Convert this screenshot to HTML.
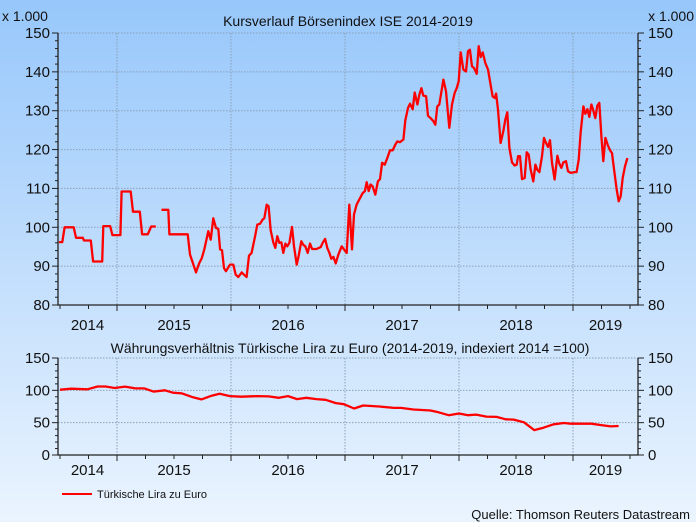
<!DOCTYPE html>
<html><head><meta charset="utf-8"><style>
html,body{margin:0;padding:0;}
body{width:696px;height:522px;overflow:hidden;font-family:"Liberation Sans",sans-serif;}
svg text{font-family:"Liberation Sans",sans-serif;fill:#111;}
</style></head><body>
<svg id="chart" width="696" height="522" viewBox="0 0 696 522" xmlns="http://www.w3.org/2000/svg">
<defs><linearGradient id="bg" x1="0" y1="0" x2="0" y2="1"><stop offset="0" stop-color="#97c7fb"/><stop offset="1" stop-color="#eaf4fe"/></linearGradient></defs>
<rect x="0" y="0" width="696" height="522" fill="url(#bg)"/>
<g id="top"></g>
<g id="bot"></g>
<text x="2" y="21" font-size="14">x 1.000</text>
<text x="694" y="21" font-size="14" text-anchor="end">x 1.000</text>
<text x="348" y="26" font-size="14" text-anchor="middle">Kursverlauf Börsenindex ISE 2014-2019</text>
<text x="350" y="353" font-size="14" text-anchor="middle">Währungsverhältnis Türkische Lira zu Euro (2014-2019, indexiert 2014 =100)</text>
<line x1="62" y1="494" x2="92" y2="494" stroke="#ff0000" stroke-width="2"/>
<text x="97" y="498" font-size="11">Türkische Lira zu Euro</text>
<text x="690" y="519" font-size="13" text-anchor="end">Quelle: Thomson Reuters Datastream</text>
</svg>
<script>
// ISE index (x1000): dates as fractional years, null = gap
const iseDates = [2014.49,2014.52,2014.54,2014.62,2014.64,2014.70,2014.71,2014.77,2014.79,2014.87,2014.88,2014.94,2014.96,2015.03,2015.04,2015.12,2015.14,2015.20,2015.22,2015.27,2015.30,2015.34,2015.37,
2015.39,2015.45,2015.46,2015.62,2015.64,2015.67,2015.693,2015.722,2015.743,2015.766,2015.801,2015.822,2015.845,2015.868,2015.889,2015.904,2015.921,2015.939,2015.956,2015.991,2016.020,2016.041,2016.064,2016.094,2016.114,2016.137,2016.158,2016.181,2016.211,2016.231,2016.254,2016.278,2016.292,2016.313,2016.330,2016.348,2016.371,2016.389,2016.406,2016.424,2016.442,2016.459,2016.477,2016.494,2016.512,2016.535,2016.553,2016.576,2016.594,2016.617,2016.634,2016.652,2016.673,2016.693,2016.711,2016.751,2016.787,2016.804,2016.825,2016.845,2016.863,2016.880,2016.898,2016.918,2016.942,2016.971,2016.991,2017.015,
2017.038,2017.061,2017.079,2017.102,2017.132,2017.155,2017.175,2017.190,2017.208,2017.225,2017.243,2017.266,2017.289,2017.307,2017.325,2017.348,2017.371,2017.395,2017.418,2017.442,2017.459,2017.482,2017.512,2017.529,2017.553,2017.570,2017.594,2017.611,2017.635,2017.652,2017.670,2017.687,2017.711,2017.728,2017.751,2017.775,2017.792,2017.810,2017.827,2017.863,2017.886,2017.915,2017.939,2017.962,2017.980,2017.997,2018.015,2018.038,2018.061,2018.079,2018.096,2018.114,2018.132,2018.155,2018.173,2018.190,2018.208,2018.231,2018.254,2018.272,2018.295,2018.313,2018.325,2018.342,2018.365,2018.389,2018.406,2018.424,2018.442,2018.465,2018.488,2018.506,2018.518,2018.535,2018.553,2018.576,2018.594,2018.611,2018.629,2018.652,2018.670,2018.687,2018.705,2018.728,2018.746,2018.763,2018.781,2018.798,2018.816,2018.839,2018.863,2018.880,2018.898,2018.915,2018.939,2018.956,2018.980,2019.015,2019.032,2019.050,2019.067,2019.091,2019.108,2019.126,2019.143,2019.161,2019.178,2019.196,2019.213,2019.231,2019.249,2019.266,2019.284,2019.307,2019.325,2019.342,2019.360,2019.383,2019.401,2019.418,2019.436,2019.456,2019.477];
const iseValues = [96.2,96.2,100,100,97.3,97.3,96.6,96.6,91.2,91.2,100.3,100.3,98,98,109.2,109.2,104,104,98.2,98.2,100.2,100.2,null,
104.5,104.5,98.2,98.2,93.0,90.4,88.4,90.8,92.0,94.3,99.0,96.8,102.3,99.8,99.6,94.3,94.1,89.5,88.7,90.4,90.4,87.8,87.2,88.4,87.8,87.2,92.7,93.4,97.7,100.7,100.9,102.0,102.3,105.8,105.4,99.2,96.1,94.7,97.7,96.0,96.1,93.4,95.8,95.1,96.0,100.1,95.1,90.4,92.7,96.4,95.5,95.1,93.4,95.8,94.4,94.4,94.9,96.0,97.0,94.7,93.4,91.9,92.4,90.7,93.0,95.1,94.3,93.4,
105.8,94.3,103.3,105.8,107.5,108.8,109.3,111.6,109.3,111.0,110.5,108.4,111.8,112.4,116.6,116.1,117.8,119.8,119.8,121.3,122.1,121.9,122.6,127.5,130.7,131.8,130.4,134.7,131.6,134.1,135.8,133.9,133.7,128.7,128.1,127.3,126.4,131.1,131.6,138.0,135.0,125.6,131.6,134.6,135.8,137.6,145.0,140.6,140.1,145.3,145.7,141.4,141.0,139.5,146.6,143.8,145.0,142.3,140.6,137.6,133.7,133.3,134.4,130.3,121.7,124.7,127.7,129.6,120.4,116.7,115.9,116.1,118.3,118.3,112.4,112.7,119.3,118.7,114.8,111.8,116.1,114.8,114.2,118.3,123.0,121.7,120.7,122.4,116.6,112.3,118.4,116.4,115.3,116.7,117.0,114.4,114.0,114.2,114.2,117.4,124.3,131.1,129.2,130.4,128.4,131.6,130.1,128.1,131.3,132.0,123.4,117.0,123.0,121.0,119.8,119.1,115.0,109.7,106.7,108.0,112.7,115.7,117.8];
// TRY/EUR index
const tryDates = [2014.50,2014.60,2014.74,2014.83,2014.90,2014.98,2015.07,2015.16,2015.24,2015.32,2015.42,2015.49,2015.57,2015.67,2015.74,2015.83,2015.90,2015.99,2016.09,2016.23,2016.33,2016.42,2016.50,2016.58,2016.66,2016.75,2016.83,2016.92,2016.99,2017.08,2017.16,2017.30,2017.43,2017.49,2017.60,2017.75,2017.82,2017.91,2018.00,2018.08,2018.15,2018.24,2018.33,2018.41,2018.48,2018.57,2018.66,2018.74,2018.83,2018.92,2018.98,2019.16,2019.24,2019.33,2019.40];
const tryValues = [101,102.6,101.6,106,106,103.6,105.7,103,103,98,100,96.4,95.3,89,86,91.7,94.8,91.1,90.1,91.1,90.6,88.5,91.1,86.5,88.5,86.5,85.4,80.2,78.6,71.9,76.6,75,72.9,72.9,70.3,68.8,66.1,61.5,64.1,61.5,62.5,59.4,58.9,55.2,54.7,50.6,38.5,42.2,47.4,49.5,48.4,48.4,46.4,44.3,44.8];
const yearLabels = ['2014','2015','2016','2017','2018','2019'];
const topTicks = [80,90,100,110,120,130,140,150];
const botTicks = [0,50,100,150];

const NS='http://www.w3.org/2000/svg';
const X0=58, X1=638, T0=2014.49, T1=2019.577;
const xs = t => 117 + (t-2015)*114;
function mk(parent, tag, attrs){const e=document.createElementNS(NS,tag);for(const k in attrs)e.setAttribute(k,attrs[k]);parent.appendChild(e);return e;}

function drawPanel(g, yTop, yBot, vMin, vMax, ticks, minorStep, gridTicks, dates, values, labelY, prefix){
  const ys = v => yBot - (v-vMin)/(vMax-vMin)*(yBot-yTop);
  gridTicks.forEach(v=>{ if(v===vMin) return;
    const l=mk(g,'line',{x1:X0,x2:X1,y1:ys(v),y2:ys(v),stroke:'#8aa0b8','stroke-width':1,'stroke-dasharray':'1.5,1.5'});
    
    
  });
  for(let y=2015;y<=2019;y++){
    const l=mk(g,'line',{x1:xs(y),x2:xs(y),y1:yTop,y2:yBot,stroke:'#8aa0b8','stroke-width':1,'stroke-dasharray':'1.5,1.5'});
    
    
  }
  const ax=mk(g,'path',{d:`M${X0},${yTop}V${yBot}H${X1}V${yTop}`,fill:'none',stroke:'#222','stroke-width':1.3});
  
  
  for(let v=vMin; v<=vMax+0.001; v+=minorStep){
    const major = ticks.includes(Math.round(v));
    const len = major?6:3;
    mk(g,'line',{x1:X0-len,x2:X0,y1:ys(v),y2:ys(v),stroke:'#222','stroke-width':1});
    mk(g,'line',{x1:X1,x2:X1+len,y1:ys(v),y2:ys(v),stroke:'#222','stroke-width':1});
  }
  ticks.forEach(v=>{
    const a=mk(g,'text',{x:X0-8,y:ys(v)+5,'font-size':15,'text-anchor':'end'}); a.textContent=v;
    
    
    const b=mk(g,'text',{x:X1+10,y:ys(v)+5,'font-size':15}); b.textContent=v;
    
    
  });
  for(let q=2014.5; q<=T1; q+=0.25){
    const len = Math.abs(q-Math.round(q))<0.01?6:4;
    mk(g,'line',{x1:xs(q),x2:xs(q),y1:yBot,y2:yBot+len,stroke:'#222','stroke-width':1});
  }
  yearLabels.forEach((lab,i)=>{
    const y=+lab; const a=Math.max(xs(y),X0), b=Math.min(xs(y+1),X1);
    const t=mk(g,'text',{x:(a+b)/2,y:labelY,'font-size':15,'text-anchor':'middle'}); t.textContent=lab;
    
    
  });
  let d='', pen=false;
  dates.forEach((t,i)=>{ const v=values[i]; if(v==null){pen=false;return;}
    d += (pen?'L':'M')+xs(t).toFixed(1)+','+ys(v).toFixed(1); pen=true; });
  const p=mk(g,'path',{d:d,fill:'none',stroke:'#ff0000','stroke-width':2.3,'stroke-linejoin':'round'});
  
  
}
drawPanel(document.getElementById('top'),33,305,80,150,topTicks,2,topTicks,iseDates,iseValues,330,'ise');
drawPanel(document.getElementById('bot'),358,455,0,150,botTicks,10,botTicks,tryDates,tryValues,475,'try');
</script>
</body></html>
